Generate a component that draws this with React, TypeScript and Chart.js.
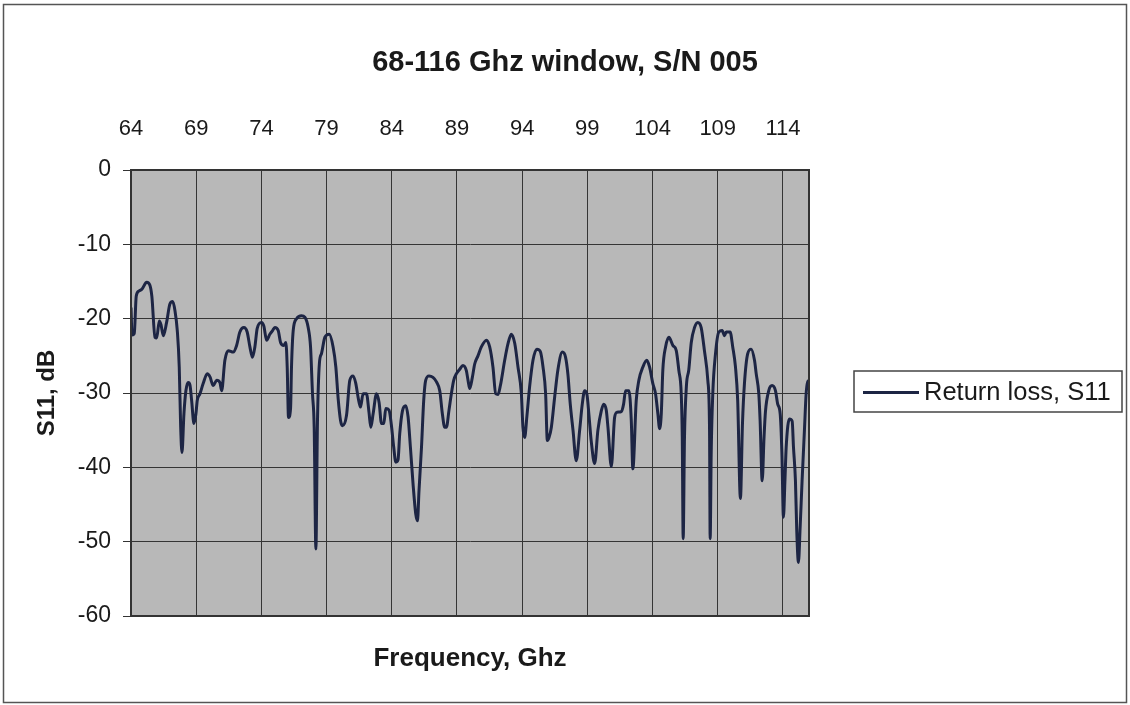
import React, { useEffect, useRef } from 'react';
import { Chart, registerables } from 'chart.js';

Chart.register(...registerables);

const chartTitle = '68-116 Ghz window, S/N 005';
const xAxisTitle = 'Frequency, Ghz';
const yAxisTitle = 'S11, dB';
const seriesLabel = 'Return loss, S11';

const xTickValues = [64, 69, 74, 79, 84, 89, 94, 99, 104, 109, 114];
const yTickValues = [0, -10, -20, -30, -40, -50, -60];

const freqGHz = [
  64.0, 64.08, 64.25, 64.4, 64.6, 64.85, 65.2, 65.45, 65.6, 65.84, 65.97, 66.17, 66.3, 66.48, 66.73, 66.99,
  67.2, 67.37, 67.55, 67.7, 67.81, 67.91, 68.06, 68.21, 68.39, 68.52, 68.65, 68.83, 68.98, 69.08, 69.29, 69.54,
  69.85, 70.05, 70.31, 70.57, 70.82, 70.95, 71.2, 71.46, 71.84, 72.1, 72.35, 72.66, 72.91, 73.12, 73.32, 73.5,
  73.68, 74.01, 74.19, 74.4, 74.65, 74.86, 75.03, 75.29, 75.47, 75.72, 75.88, 75.98, 76.08, 76.24, 76.31, 76.44,
  76.7, 77.08, 77.33, 77.59, 77.77, 77.92, 78.05, 78.18, 78.3, 78.45, 78.61, 78.87, 79.2, 79.5, 79.71, 79.89,
  80.07, 80.22, 80.53, 80.78, 81.03, 81.24, 81.42, 81.6, 81.8, 82.06, 82.26, 82.39, 82.57, 82.83, 83.03, 83.21,
  83.39, 83.54, 83.79, 83.97, 84.15, 84.31, 84.48, 84.61, 84.82, 85.07, 85.25, 85.43, 85.63, 85.84, 85.97, 86.09,
  86.28, 86.45, 86.6, 86.86, 87.16, 87.43, 87.68, 87.88, 88.06, 88.19, 88.39, 88.57, 88.75, 88.96, 89.21, 89.46,
  89.72, 89.85, 89.98, 90.18, 90.36, 90.61, 90.87, 91.26, 91.51, 91.76, 91.97, 92.15, 92.33, 92.66, 92.91, 93.17,
  93.43, 93.68, 93.94, 94.06, 94.19, 94.37, 94.57, 94.83, 95.13, 95.39, 95.6, 95.8, 95.93, 96.06, 96.24, 96.49,
  96.74, 97.08, 97.33, 97.51, 97.69, 97.9, 98.15, 98.41, 98.61, 98.79, 98.97, 99.12, 99.3, 99.56, 99.81, 100.07,
  100.25, 100.45, 100.58, 100.84, 101.09, 101.27, 101.6, 101.78, 101.93, 102.19, 102.37, 102.49, 102.75, 102.95, 103.26, 103.56,
  103.77, 104.02, 104.23, 104.41, 104.54, 104.67, 104.79, 105.0, 105.25, 105.56, 105.82, 106.02, 106.2, 106.28, 106.35, 106.45,
  106.6, 106.78, 106.97, 107.22, 107.47, 107.73, 107.98, 108.24, 108.37, 108.42, 108.5, 108.62, 108.83, 109.08, 109.34, 109.52,
  109.65, 109.95, 110.15, 110.36, 110.53, 110.74, 110.9, 111.05, 111.3, 111.56, 111.82, 111.95, 112.15, 112.25, 112.41, 112.55,
  112.66, 112.91, 113.17, 113.43, 113.6, 113.79, 113.92, 114.04, 114.15, 114.25, 114.5, 114.71, 114.81, 114.96, 115.06, 115.19,
  115.32, 115.47, 115.65, 115.78, 115.9, 116.0,
];

const returnLossDb = [
  -18.5, -22.2, -22.0, -17.0, -16.3, -16.0, -15.1, -15.5, -17.0, -22.5, -22.6, -20.3, -20.8, -22.3, -20.5, -18.0,
  -17.7, -18.9, -21.6, -26.5, -34.6, -38.0, -32.8, -29.7, -28.6, -28.9, -31.0, -34.1, -32.8, -31.0, -30.1, -28.7,
  -27.4, -27.8, -29.0, -28.3, -28.6, -29.7, -25.6, -24.3, -24.5, -23.6, -21.8, -21.2, -21.8, -23.8, -25.2, -23.8,
  -21.3, -20.5, -21.0, -22.9, -22.1, -21.6, -21.2, -21.6, -23.2, -23.6, -23.2, -26.5, -33.3, -32.0, -26.5, -21.6,
  -20.0, -19.6, -19.8, -21.2, -23.8, -30.1, -34.6, -51.0, -34.0, -26.0, -24.7, -22.5, -22.1, -23.8, -26.5, -30.8,
  -33.7, -34.4, -33.0, -28.3, -27.7, -28.7, -30.6, -31.9, -30.1, -30.1, -32.7, -34.6, -32.8, -30.1, -31.3, -34.1,
  -34.1, -32.1, -32.3, -34.3, -37.3, -39.3, -39.0, -35.5, -32.4, -31.7, -33.2, -37.3, -42.2, -46.3, -47.2, -43.1,
  -37.3, -31.0, -28.3, -27.7, -27.9, -28.5, -29.7, -32.8, -34.6, -34.6, -32.3, -30.1, -28.3, -27.4, -26.8, -26.3,
  -27.0, -28.3, -29.4, -27.9, -26.1, -25.0, -23.8, -22.9, -23.8, -26.5, -30.1, -30.2, -29.0, -25.6, -23.4, -22.1,
  -23.3, -26.5, -30.1, -34.6, -36.0, -33.0, -29.2, -25.6, -24.1, -24.4, -26.5, -30.1, -36.4, -36.0, -34.6, -30.6,
  -26.9, -24.5, -25.2, -27.5, -31.5, -35.0, -39.1, -35.0, -31.5, -29.7, -30.2, -32.9, -36.5, -39.5, -35.0, -32.4,
  -31.5, -32.3, -34.6, -39.9, -33.3, -32.6, -32.5, -31.5, -29.7, -29.7, -33.7, -40.2, -31.0, -28.3, -26.5, -25.6,
  -26.5, -28.7, -30.1, -32.8, -34.8, -32.8, -26.9, -23.8, -22.5, -23.6, -24.3, -27.0, -30.1, -36.0, -49.6, -36.0,
  -29.0, -26.9, -23.2, -21.2, -20.5, -21.2, -24.3, -28.3, -34.6, -49.6, -38.0, -30.1, -24.7, -21.8, -21.6, -22.3,
  -21.8, -21.8, -23.8, -26.5, -31.0, -44.2, -34.0, -28.7, -24.7, -24.1, -25.6, -27.4, -30.1, -33.7, -41.8, -36.0,
  -32.5, -29.7, -29.0, -29.7, -31.5, -32.8, -38.0, -46.7, -42.0, -37.3, -33.5, -33.8, -37.3, -41.8, -48.5, -52.8,
  -48.1, -41.8, -35.0, -30.1, -28.5, -28.3,
];

const FONT = "'Liberation Sans', Arial, Helvetica, sans-serif";
const LINE_COLOR = '#1d2544';
const PLOT_BG = '#b8b8b8';
const GRID = '#353535';

const TITLE_SIZE = 29;
const TITLE_PAD_TOP = 46;
const PLOT_TOP = 170;
const PLOT_BOTTOM = 616;
const PLOT_LEFT = 131;
const PLOT_RIGHT = 809;
const W = 1130;
const H = 705;

export default function App() {
  const canvasRef = useRef<HTMLCanvasElement | null>(null);

  useEffect(() => {
    document.body.style.margin = '0';
    const canvas = canvasRef.current;
    if (!canvas) return;

    const points = freqGHz.map((f, i) => ({ x: f, y: returnLossDb[i] }));
    const titleBoxH = TITLE_PAD_TOP + TITLE_SIZE * 1.2;

    const decor = {
      id: 'decor',
      beforeDraw(chart: any) {
        const { ctx, chartArea: a } = chart;
        ctx.save();
        ctx.fillStyle = '#ffffff';
        ctx.fillRect(0, 0, chart.width, chart.height);
        ctx.fillStyle = PLOT_BG;
        ctx.fillRect(a.left, a.top, a.right - a.left, a.bottom - a.top);
        ctx.restore();
      },
      afterDraw(chart: any) {
        const { ctx, chartArea: a } = chart;
        ctx.save();
        ctx.strokeStyle = '#333333';
        ctx.lineWidth = 2;
        ctx.strokeRect(a.left, a.top, a.right - a.left, a.bottom - a.top);
        ctx.strokeStyle = '#555555';
        ctx.lineWidth = 1.5;
        ctx.strokeRect(3.5, 4.5, 1123, 698);
        const lx = 854, ly = 371, lw = 268, lh = 41;
        ctx.fillStyle = '#ffffff';
        ctx.fillRect(lx, ly, lw, lh);
        ctx.strokeStyle = '#444444';
        ctx.lineWidth = 1.5;
        ctx.strokeRect(lx, ly, lw, lh);
        const ds = chart.data.datasets[0];
        ctx.strokeStyle = LINE_COLOR;
        ctx.lineWidth = 3;
        ctx.beginPath();
        ctx.moveTo(863, ly + lh / 2 + 1);
        ctx.lineTo(919, ly + lh / 2 + 1);
        ctx.stroke();
        ctx.fillStyle = '#1a1a1a';
        ctx.font = `25.5px ${FONT}`;
        ctx.textBaseline = 'middle';
        ctx.textAlign = 'left';
        ctx.fillText(ds.label, 924, ly + lh / 2 + 1);
        ctx.restore();
      },
    };

    const chart = new Chart(canvas, {
      type: 'line',
      data: {
        datasets: [
          {
            label: seriesLabel,
            data: points,
            borderColor: LINE_COLOR,
            borderWidth: 3,
            pointRadius: 0,
            cubicInterpolationMode: 'monotone',
            fill: false,
            xAxisID: 'x',
            yAxisID: 'y',
          },
        ],
      },
      options: {
        animation: false,
        responsive: false,
        devicePixelRatio: 1,
        layout: { padding: 0 },
        plugins: {
          legend: { display: false },
          tooltip: { enabled: false },
          title: {
            display: true,
            text: chartTitle,
            color: '#1a1a1a',
            font: { family: FONT, size: TITLE_SIZE, weight: 'bold', lineHeight: 1.2 },
            padding: { top: TITLE_PAD_TOP, bottom: 0 },
          },
        },
        scales: {
          x: {
            type: 'linear',
            position: 'top',
            min: 64,
            max: 116,
            afterBuildTicks: (scale: any) => {
              scale.ticks = xTickValues.map((v) => ({ value: v }));
            },
            afterFit: (scale: any) => {
              scale.height = PLOT_TOP - titleBoxH;
            },
            ticks: {
              color: '#1a1a1a',
              font: { family: FONT, size: 22 },
              padding: 28,
              maxRotation: 0,
              autoSkip: false,
            },
            grid: { color: GRID, lineWidth: 1, drawTicks: false },
            border: { display: true, color: '#333333', width: 2 },
          },
          xb: {
            type: 'linear',
            position: 'bottom',
            min: 64,
            max: 116,
            afterFit: (scale: any) => {
              scale.height = H - PLOT_BOTTOM;
            },
            ticks: { display: false },
            grid: { display: false, drawTicks: false },
            border: { display: false },
            title: {
              display: true,
              text: xAxisTitle,
              color: '#1a1a1a',
              font: { family: FONT, size: 26, weight: 'bold', lineHeight: 1.2 },
              padding: { top: 0, bottom: 31 },
            },
          },
          y: {
            type: 'linear',
            position: 'left',
            min: -60,
            max: 0,
            afterBuildTicks: (scale: any) => {
              scale.ticks = yTickValues.map((v) => ({ value: v }));
            },
            afterFit: (scale: any) => {
              scale.width = PLOT_LEFT;
            },
            ticks: {
              color: '#1a1a1a',
              font: { family: FONT, size: 23 },
              padding: 12,
            },
            grid: { color: GRID, lineWidth: 1, drawTicks: true, tickLength: 8, tickColor: '#333333' },
            border: { display: true, color: '#333333', width: 2 },
            title: {
              display: true,
              text: yAxisTitle,
              color: '#1a1a1a',
              font: { family: FONT, size: 24, weight: 'bold', lineHeight: 1.2 },
              padding: { top: 33, bottom: 0 },
            },
          },
          spacer: {
            type: 'linear',
            position: 'right',
            min: -60,
            max: 0,
            afterFit: (scale: any) => {
              scale.width = W - PLOT_RIGHT;
            },
            ticks: { display: false },
            grid: { display: false, drawTicks: false },
            border: { display: false },
          },
        },
      },
      plugins: [decor],
    });

    return () => {
      chart.destroy();
    };
  }, []);

  return (
    <div style={{ position: 'absolute', left: 0, top: 0, width: W, height: H, background: '#fff' }}>
      <canvas ref={canvasRef} width={W} height={H} style={{ display: 'block', width: W, height: H }} />
    </div>
  );
}
